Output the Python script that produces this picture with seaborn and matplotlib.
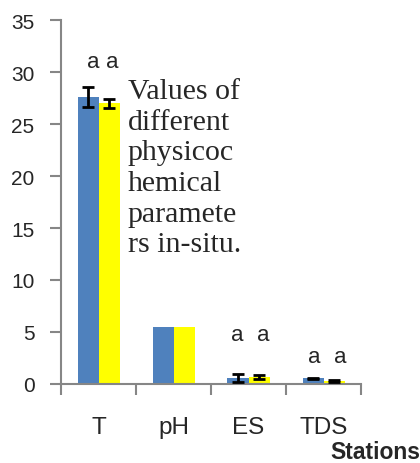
import pandas as pd
import seaborn as sns
import matplotlib.pyplot as plt

# Datos
parametros = ['T', 'pH', 'ES', 'TDS']
serie_1 = [27.6, 5.5, 0.6, 0.55]
serie_2 = [27.0, 5.5, 0.7, 0.3]
error_1 = [1.0, 0.0, 0.4, 0.04]
error_2 = [0.45, 0.0, 0.2, 0.12]
letras_1 = ['a', '', 'a', 'a']
letras_2 = ['a', '', 'a', 'a']

azul = '#4F81BD'
amarillo = '#FFFF00'
gris = '#868686'

# Posición de las letras (altura de la línea base y desplazamientos)
altura_letras = [30.5, 0, 4.25, 2.1]
desp_1 = [-0.07, 0, -0.15, -0.12]
desp_2 = [0.18, 0, 0.19, 0.22]

df = pd.DataFrame({
    'Parametro': parametros * 2,
    'Valor': serie_1 + serie_2,
    'Serie': ['S1'] * 4 + ['S2'] * 4,
})

sns.set_style('white')
plt.rcParams['font.family'] = ['Liberation Sans', 'DejaVu Sans']
estrecha = ['Liberation Sans Narrow', 'Liberation Sans']

fig = plt.figure(figsize=(4.2, 4.64), dpi=100)
ax = fig.add_axes([61 / 420, 1 - 385 / 464, 300 / 420, 364 / 464])

sns.barplot(data=df, x='Parametro', y='Valor', hue='Serie', order=parametros,
            palette=[azul, amarillo], saturation=1, width=0.56, gap=0,
            errorbar=None, linewidth=0, legend=False, ax=ax)

# Barras de error
for i in range(len(parametros)):
    for off, val, err in [(-0.14, serie_1[i], error_1[i]),
                          (0.14, serie_2[i], error_2[i])]:
        if err > 0:
            ax.errorbar(i + off, val, yerr=err, color='black', capsize=4,
                        elinewidth=2, capthick=2, fmt='none', zorder=4)

# Letras de significancia
for i in range(len(parametros)):
    if letras_1[i]:
        ax.text(i + desp_1[i], altura_letras[i], letras_1[i], ha='center',
                va='baseline', fontsize=16)
    if letras_2[i]:
        ax.text(i + desp_2[i], altura_letras[i], letras_2[i], ha='center',
                va='baseline', fontsize=16)

ax.text(0.393, 29.4, 'Values of\ndifferent\nphysicoc\nhemical\nparamete\nrs in-situ.',
        family=['Liberation Serif'], fontsize=21.5, va='top', ha='left',
        linespacing=1.23, zorder=5,
        bbox=dict(facecolor='white', edgecolor='none', pad=0))

ax.set_ylim(0, 35)
ax.set_xlim(-0.5, 3.5)
ax.set_yticks(range(0, 36, 5))
ax.set_xticks([-0.5, 0.5, 1.5, 2.5, 3.5])
ax.set_xticklabels([])
ax.tick_params(axis='x', length=8, width=1.5, color=gris, direction='out', bottom=True)
ax.tick_params(axis='y', length=8, width=1.5, color=gris, direction='out', left=True,
               labelsize=15, pad=11)
for i, p in enumerate(parametros):
    ax.text(i, -4.75, p, ha='center', va='baseline', fontsize=17.5, family=estrecha)
ax.set_xlabel('')
ax.set_ylabel('')
for lado in ['top', 'right']:
    ax.spines[lado].set_visible(False)
for lado in ['left', 'bottom']:
    ax.spines[lado].set_color(gris)
    ax.spines[lado].set_linewidth(1.5)

fig.text(1.0, 1 - 459 / 464, 'Stations', ha='right', va='baseline',
         fontsize=16.5, fontweight='bold', family=estrecha)

fig.savefig('out.png', dpi=100)
